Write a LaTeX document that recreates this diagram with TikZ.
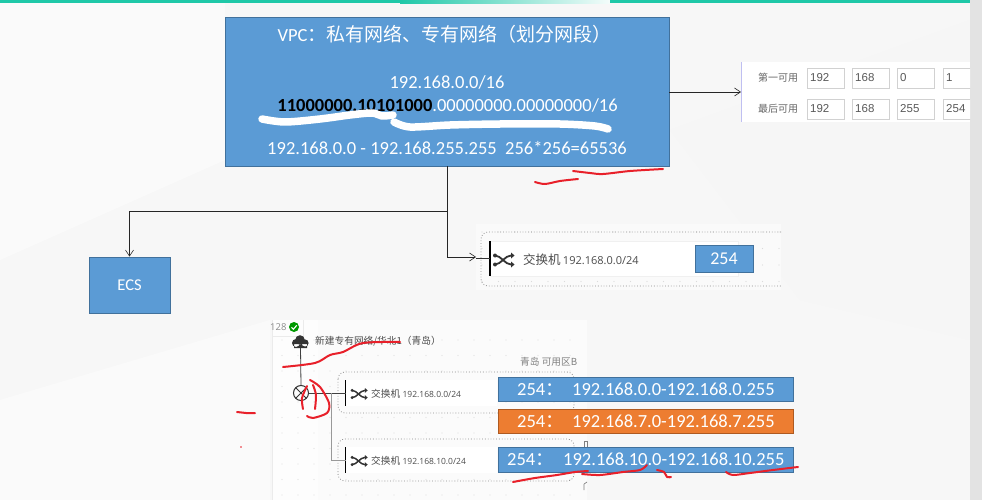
\documentclass[tikz,border=0pt]{standalone}
\usepackage{fontspec}
\setmainfont{Carlito}
\newfontfamily\cjk{Noto Sans CJK SC}
\newfontfamily\arl{Liberation Sans}
\newfontfamily\opn{Open Sans}
\usetikzlibrary{arrows.meta}
\definecolor{tealbar}{HTML}{1FC8A8}
\definecolor{bluefill}{HTML}{5B9BD5}
\definecolor{blueedge}{HTML}{41719C}
\definecolor{orangefill}{HTML}{ED7D31}
\definecolor{orangeedge}{HTML}{AE5A21}
\definecolor{inkred}{HTML}{E8202A}
\tikzset{
  x=1pt,y=-1pt,
  bluebox/.style={draw=blueedge,fill=bluefill,line width=0.8pt,inner sep=0pt,text=white},
  orangebox/.style={draw=orangeedge,fill=orangefill,line width=0.8pt,inner sep=0pt,text=white},
  wtext/.style={text=white,inner sep=0pt,font=\fontsize{18.5}{20}\selectfont},
  conn/.style={draw=black!85,line width=0.6pt},
  openarrow/.style={-{Straight Barb[length=6pt,width=8pt,line width=0.6pt]}},
  redink/.style={draw=inkred,line width=2pt,line cap=round,line join=round},
  whiteink/.style={draw=white,line width=7.5pt,line cap=round,line join=round},
  dotframe/.style={draw=black!45,line width=0.8pt,dotted,rounded corners=7pt},
  swlabel/.style={text=black!70,inner sep=0pt,anchor=west},
  fieldbox/.style={draw=black!18,fill=white,line width=0.7pt,minimum width=37pt,minimum height=20pt,inner sep=0pt,anchor=north west},
  fieldtxt/.style={text=black!65,inner sep=0pt,anchor=west,font=\arl\fontsize{11.5}{13}\selectfont},
  graylabel/.style={text=black!60,inner sep=0pt,anchor=west,font=\cjk\fontsize{10}{12}\selectfont},
  pics/shuf/.style={code={
    \draw[black!80,line cap=round] (-8,-4.5) .. controls (-2,-4.5) and (2,4.5) .. (8,4.5);
    \draw[black!80,line cap=round] (-8,4.5) .. controls (-2,4.5) and (2,-4.5) .. (8,-4.5);
    \fill[black!80] (8,-7.5) -- (11.5,-4.5) -- (8,-1.5) -- cycle;
    \fill[black!80] (8,7.5) -- (11.5,4.5) -- (8,1.5) -- cycle;
    \fill[black!80] (-8,-4.5) circle (2);
    \fill[black!80] (-8,4.5) circle (2);
  }}
}
\begin{document}
\begin{tikzpicture}
\useasboundingbox (0,0) rectangle (982,500);
% background
\fill[white] (0,0) rectangle (982,500);
\fill[black!3] (0,0) rectangle (970,500);
\fill[white,opacity=.45] (0,500) -- (0,400) -- (270,320) -- (270,500) -- cycle;
\fill[white,opacity=.45] (0,0) -- (225,0) -- (225,160) -- (0,260) -- cycle;
\fill[black!3.5] (670,130) -- (970,20) -- (970,340) -- (800,300) -- cycle;
\fill[black!11] (970,0) rectangle (982,500);
% top bars
\fill[tealbar] (0,0) rectangle (400,3.5);
\shade[left color=tealbar,right color=tealbar!5] (400,0) rectangle (610,3.5);
\fill[tealbar] (610,0) rectangle (970,3);
% right field panel
\fill[white] (741,62) rectangle (970,122);
\draw[black!22!blue!25,line width=0.7pt] (741,62) -- (741,122);
\node[graylabel] (lblfirst) at (758,78) {第一可用};
\node[graylabel] (lbllast) at (758,109) {最后可用};
\begin{scope}
\clip (741,60) rectangle (970,124);
\foreach \xx/\n/\a/\b in {807/a/192/192,852/b/168/168,897/c/0/255,943/d/1/254}{
  \node[fieldbox] (fa\n) at (\xx,68) {};
  \node[fieldbox] (fb\n) at (\xx,99) {};
  \node[fieldtxt] (ta\n) at (\xx+3,78) {\a};
  \node[fieldtxt] (tb\n) at (\xx+3,109) {\b};
}
\end{scope}
\coordinate (panelin) at (741,92);
% VPC box
\node[bluebox,minimum width=444pt,minimum height=149pt] (vpc) at (447,91.5) {};
\node[wtext,anchor=base] (vpctitle) at (444.5,42) {VPC{\cjk\fontsize{19}{20}\selectfont ：私有网络、专有网络（划分网段）}};
\node[wtext] (vpccidr) at (447,82) {192.168.0.0/16};
\node[wtext] (vpcbin) at (447.5,105) {\textcolor{black}{\textbf{11000000.10101000}}.00000000.00000000/16};
\node[wtext] (vpcrange) at (447,148) {192.168.0.0 - 192.168.255.255\ \ 256*256=65536};
\draw[whiteink] plot[smooth] coordinates {(262,119) (285,122) (320,119) (350,115) (372,113) (382,116) (393,115)};
\draw[whiteink] plot[smooth] coordinates {(394,122) (410,127) (450,125) (500,124) (560,124) (595,126) (608,129)};
% ECS
\node[bluebox,minimum width=81pt,minimum height=56pt,font=\fontsize{16.5}{18}\selectfont] (ecs) at (129.5,285) {ECS};
% switch panel 1
\fill[black!2] (476,224) rectangle (781,290);
\foreach \i in {0,...,18}\foreach \j in {0,...,3}{\fill[black!14] (482+\i*16.5,232+\j*16.5) circle (0.7);}
\draw[dotframe] (781,232) -- (481,232) -- (481,286) -- (781,286);
\fill[white] (490,241) rectangle (738,276);
\draw[black!6,line width=0.6pt] (490,241) rectangle (738,276);
\draw[black,line width=1.4pt] (490,241) -- (490,276);
\coordinate (bar1) at (490,258);
\pic[line width=1.8pt] at (503,260) {shuf};
\node[swlabel] (sw1) at (523,260) {{\cjk\fontsize{12.5}{14}\selectfont 交换机} {\opn\fontsize{11}{13}\selectfont 192.168.0.0/24}};
\node[bluebox,minimum width=58pt,minimum height=27pt,font=\fontsize{18}{20}\selectfont] (n254) at (724,258.5) {254};
\coordinate (sw1in) at (476,257);
% connectors from the VPC box
\coordinate (branch) at (447,211);
\draw[conn,openarrow] (vpc.east |- panelin) -- (panelin);
\draw[conn,openarrow] (vpc.south) -- (branch) -- (ecs.north |- branch) -- (ecs.north);
\draw[conn,openarrow] (branch) |- (sw1in);
\draw[black!80,line width=0.7pt] (476,258) -- (bar1);
% bottom panel
\fill[black!1.5] (272,320) -- (587,320) -- (587,500) -- (272,500) -- cycle;
\fill[white,opacity=.6] (272,320) rectangle (318,500);
\draw[black!8,line width=0.6pt] (272,320) -- (272,500);
\draw[black!8,line width=0.6pt] (272,336) -- (303,336) -- (303,320);
\foreach \i in {0,...,18}\foreach \j in {0,...,10}{\fill[black!12] (282+\i*16,340+\j*15.5) circle (0.6);}
\node[text=black!45,inner sep=0pt,anchor=west,font=\opn\fontsize{9.5}{12}\selectfont] (id128) at (270,327.5) {128};
\fill[green!60!black] (294,327) circle (5);
\draw[white,line width=1.1pt] (291.5,327.3) -- (293.4,329.2) -- (296.8,325.3);
% cloud
\fill[black!80] (296,343) circle (4) (300,340) circle (4.8) (305,343) circle (3.6) (294,344) rectangle (307,348);
\node[graylabel,text=black!70,font=\cjk\fontsize{9.7}{12}\selectfont] (vpcname) at (315,341) {新建专有网络/华北1（青岛）};
\node[graylabel,text=black!50,font=\cjk\fontsize{9.7}{12}\selectfont] (zone) at (520,362) {青岛 可用区B};
% router
\node[draw=black!80,line width=1pt,circle,minimum size=15pt,inner sep=0pt] (router) at (301,393) {};
\draw[black!80,line width=0.8pt] (296,388) -- (306,398) (296,398) -- (306,388);
\coordinate (cloudfoot) at (300.5,348);
\draw[black!75,line width=0.8pt] (cloudfoot) -- (router.north);
% switches
\draw[dotframe] (338,372) rectangle (574,413);
\draw[dotframe] (338,439) rectangle (574,481);
\fill[white] (346,380) rectangle (497,406);
\fill[white] (346,447) rectangle (497,473);
\draw[black,line width=1.3pt] (345.5,380) -- (345.5,406);
\draw[black,line width=1.3pt] (345.5,447) -- (345.5,473);
\coordinate (bar2) at (345.5,393);
\coordinate (bar3) at (345.5,460);
\coordinate (busa) at (331,393);
\pic[scale=.8,line width=1.5pt] at (358.5,394) {shuf};
\pic[scale=.8,line width=1.5pt] at (358.5,461) {shuf};
\node[swlabel] (sw2) at (371,394) {{\cjk\fontsize{9.7}{12}\selectfont 交换机} {\opn\fontsize{8.5}{11}\selectfont 192.168.0.0/24}};
\node[swlabel] (sw3) at (371,461) {{\cjk\fontsize{9.7}{12}\selectfont 交换机} {\opn\fontsize{8.5}{11}\selectfont 192.168.10.0/24}};
\draw[black!75,line width=0.8pt] (router.east) -- (bar2);
\draw[black!40,line width=0.9pt] (busa) -- (331,460) -- (bar3);
% small fragments at the panel edge
\draw[black!50,line width=0.7pt] (584,441) rectangle (587,447);
\draw[black!50,line width=0.7pt] (584,484) -- (587,482) (584,484) -- (584,490);
% range boxes
\node[bluebox,minimum width=295pt,minimum height=24pt] (r1) at (645.5,389) {};
\node[orangebox,minimum width=295pt,minimum height=24pt] (r2) at (645.5,421) {};
\node[bluebox,minimum width=295pt,minimum height=25pt] (r3) at (645.5,459.5) {};
\node[wtext,anchor=base west] (r1a) at (517,395.5) {254{\cjk：}};
\node[wtext,anchor=base west] (r1b) at (572,395.5) {192.168.0.0-192.168.0.255};
\node[wtext,anchor=base west] (r2a) at (517,427.5) {254{\cjk：}};
\node[wtext,anchor=base west] (r2b) at (572,427.5) {192.168.7.0-192.168.7.255};
\node[wtext,anchor=base west] (r3a) at (507,465.5) {254{\cjk：}};
\node[wtext,anchor=base west] (r3b) at (563,465.5) {192.168.10.0-192.168.10.255};
% red ink
\draw[redink] plot[smooth] coordinates {(535,182) (545,184) (560,181) (578,179)};
\draw[redink] plot[smooth] coordinates {(573,171) (590,173) (603,174) (630,171) (663,169)};
\draw[redink] plot[smooth] coordinates {(283,367) (315,363) (330,355) (343,352) (363,343) (400,342)};
\draw[redink] plot[smooth] coordinates {(307,386) (302,398) (303,409)};
\draw[redink] plot[smooth] coordinates {(313,385) (316,395) (315,409)};
\draw[redink] plot[smooth] coordinates {(310,380) (320,387) (329,403) (327,413) (313,418) (307,416)};
\draw[redink] (237,412) -- (246,413) -- (255,413);
\fill[inkred] (241,447) circle (0.9);
\draw[redink] plot[smooth] coordinates {(513,482) (535,478) (557,475) (575,472) (588,471)};
\draw[redink] plot[smooth] coordinates {(582,474) (600,475) (623,472) (640,470) (647,465)};
\draw[redink] plot[smooth] coordinates {(657,470) (664,472) (667,477) (671,477)};
\draw[redink] plot[smooth] coordinates {(726,472) (733,475) (750,473) (773,470) (798,467)};
\end{tikzpicture}
\end{document}
